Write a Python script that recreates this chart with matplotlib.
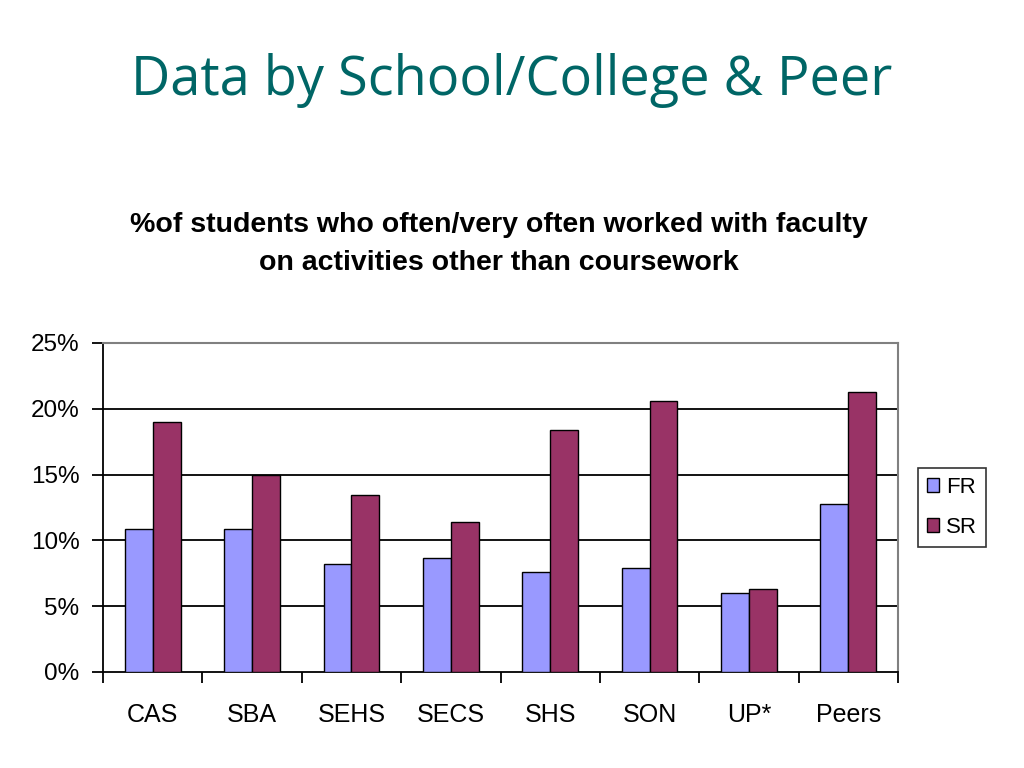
import matplotlib
matplotlib.use("Agg")
import matplotlib.pyplot as plt
import numpy as np
from matplotlib.ticker import FuncFormatter, FixedLocator

# data (percent)
schools = ["CAS", "SBA", "SEHS", "SECS", "SHS", "SON", "UP*", "Peers"]
fr = [10.9, 10.9, 8.2, 8.7, 7.6, 7.9, 6.0, 12.8]
sr = [19.0, 15.0, 13.45, 11.4, 18.4, 20.6, 6.3, 21.3]

fig = plt.figure(figsize=(10.24, 7.68), dpi=100)
ax = fig.add_axes([103/1024, 1 - 672/768, 795/1024, 329/768])

x = np.arange(len(schools))
w = 0.28
ax.bar(x - w/2, fr, w, color="#9999FF", edgecolor="black", linewidth=1, label="FR", zorder=3)
ax.bar(x + w/2, sr, w, color="#993366", edgecolor="black", linewidth=1, label="SR", zorder=3)

ax.set_xlim(-0.5, len(schools) - 0.5)
ax.set_ylim(0, 25)
ax.set_yticks([0, 5, 10, 15, 20, 25])
ax.yaxis.set_major_formatter(FuncFormatter(lambda v, p: "%d%%" % v))
for v in [5, 10, 15, 20]:
    ax.axhline(v, color="black", linewidth=1.3, zorder=1)

# category labels between boundary ticks
ax.xaxis.set_major_locator(FixedLocator(np.arange(-0.5, len(schools), 1)))
ax.xaxis.set_minor_locator(FixedLocator(x))
ax.set_xticklabels([])
ax.set_xticklabels(schools, minor=True)
ax.tick_params(axis="x", which="major", direction="out", length=8, width=1.3)
ax.tick_params(axis="x", which="minor", length=0, pad=22, labelsize=18)
ax.tick_params(axis="y", direction="out", length=8, width=1.3, labelsize=17.5, pad=9)
for lab in ax.get_xticklabels(minor=True) + ax.get_yticklabels():
    lab.set_fontfamily("Liberation Sans")

ax.spines["left"].set_linewidth(1.3)
ax.spines["bottom"].set_linewidth(1.3)
ax.spines["top"].set_color("#808080")
ax.spines["right"].set_color("#808080")
ax.spines["top"].set_linewidth(1.5)
ax.spines["right"].set_linewidth(1.5)

leg = ax.legend(loc="center left", bbox_to_anchor=(1.025, 0.5), borderaxespad=0, frameon=True,
                fancybox=False, edgecolor="black", handlelength=0.55, handleheight=0.55,
                handletextpad=0.3, borderpad=0.4, labelspacing=0.85,
                prop={"family": "Liberation Sans", "size": 16})
leg.get_frame().set_linewidth(1.2)

fig.text(0.5, 1 - 95/768, "Data by School/College & Peer", ha="center", va="baseline",
         fontsize=39, color="#006666", family="Open Sans")
fig.text(0.487, 1 - 244/768, "%of students who often/very often worked with faculty\non activities other than coursework",
         ha="center", va="center", fontsize=20.5, fontweight="bold", family="Liberation Sans",
         linespacing=1.6)

fig.savefig("out.png", dpi=100)
